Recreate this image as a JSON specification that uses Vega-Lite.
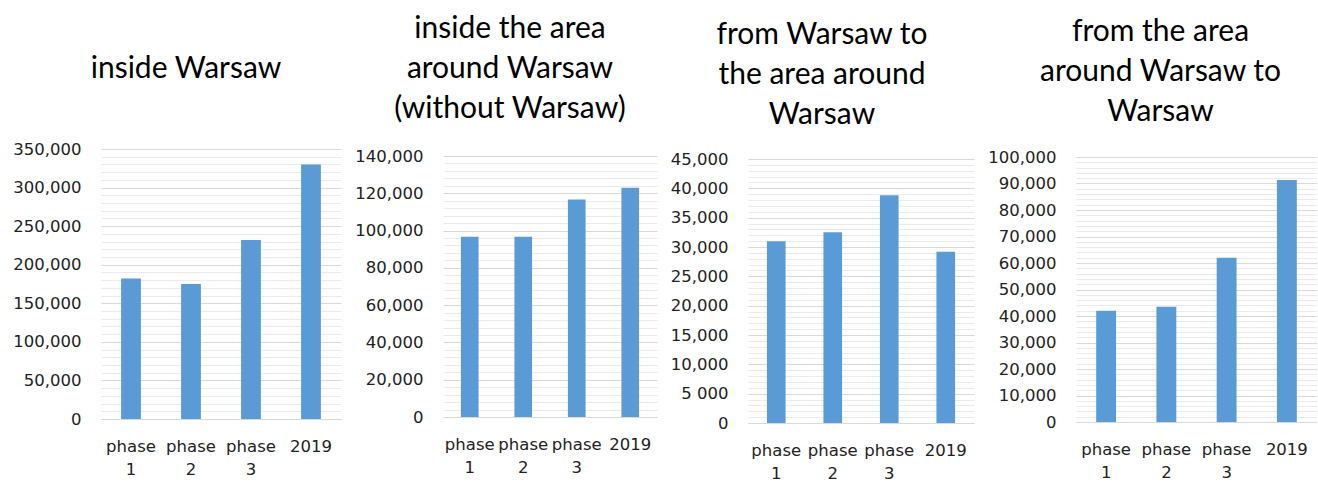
{
  "$schema": "https://vega.github.io/schema/vega-lite/v6.json",
  "padding": {"left": 12, "top": 14, "right": 0, "bottom": 0},
  "background": "white",
  "spacing": 13,
  "data": {"values": [
    {"panel": "p1", "cat": "phase 1", "value": 182000},
    {"panel": "p1", "cat": "phase 2", "value": 175000},
    {"panel": "p1", "cat": "phase 3", "value": 232000},
    {"panel": "p1", "cat": "2019", "value": 330000},
    {"panel": "p2", "cat": "phase 1", "value": 96700},
    {"panel": "p2", "cat": "phase 2", "value": 96700},
    {"panel": "p2", "cat": "phase 3", "value": 116700},
    {"panel": "p2", "cat": "2019", "value": 123000},
    {"panel": "p3", "cat": "phase 1", "value": 31000},
    {"panel": "p3", "cat": "phase 2", "value": 32500},
    {"panel": "p3", "cat": "phase 3", "value": 38800},
    {"panel": "p3", "cat": "2019", "value": 29200},
    {"panel": "p4", "cat": "phase 1", "value": 42000},
    {"panel": "p4", "cat": "phase 2", "value": 43500},
    {"panel": "p4", "cat": "phase 3", "value": 62000},
    {"panel": "p4", "cat": "2019", "value": 91300}
  ]},
  "hconcat": [
    {
      "width": 240, "height": 270,
      "title": {"text": ["", "inside Warsaw", ""], "offset": 17, "dx": -35},
      "transform": [{"filter": "datum.panel === 'p1'"}],
      "mark": {"type": "bar", "color": "#5B9BD5"},
      "encoding": {
        "x": {"field": "cat", "type": "nominal", "sort": ["phase 1", "phase 2", "phase 3", "2019"],
              "scale": {"paddingInner": 0.67, "paddingOuter": 0.335}, "axis": {"title": null}},
        "y": {"field": "value", "type": "quantitative", "scale": {"domain": [0, 350000], "nice": false, "range": [270, 0]},
              "axis": {"title": null,
                       "values": [0,10000,20000,30000,40000,50000,60000,70000,80000,90000,100000,110000,120000,130000,140000,150000,160000,170000,180000,190000,200000,210000,220000,230000,240000,250000,260000,270000,280000,290000,300000,310000,320000,330000,340000,350000],
                       "labelExpr": "datum.value % 50000 === 0 ? datum.label : ''",
                       "gridColor": {"condition": {"test": "datum.value % 50000 === 0", "value": "#d9d9d9"}, "value": "#ebebeb"}}}
      }
    },
    {
      "width": 214, "height": 268,
      "title": {"text": ["inside the area", "around Warsaw", "(without Warsaw)"], "offset": 24, "dx": -40},
      "transform": [{"filter": "datum.panel === 'p2'"}],
      "mark": {"type": "bar", "color": "#5B9BD5"},
      "encoding": {
        "x": {"field": "cat", "type": "nominal", "sort": ["phase 1", "phase 2", "phase 3", "2019"],
              "scale": {"paddingInner": 0.67, "paddingOuter": 0.335}, "axis": {"title": null}},
        "y": {"field": "value", "type": "quantitative", "scale": {"domain": [0, 140000], "nice": false, "range": [268, 7]},
              "axis": {"title": null,
                       "values": [0,4000,8000,12000,16000,20000,24000,28000,32000,36000,40000,44000,48000,52000,56000,60000,64000,68000,72000,76000,80000,84000,88000,92000,96000,100000,104000,108000,112000,116000,120000,124000,128000,132000,136000,140000],
                       "labelExpr": "datum.value % 20000 === 0 ? datum.label : ''",
                       "gridColor": {"condition": {"test": "datum.value % 20000 === 0", "value": "#d9d9d9"}, "value": "#ebebeb"}}}
      }
    },
    {
      "width": 226, "height": 274,
      "title": {"text": ["from Warsaw to", "the area around", "Warsaw"], "offset": 19, "dx": -39},
      "transform": [{"filter": "datum.panel === 'p3'"}],
      "mark": {"type": "bar", "color": "#5B9BD5"},
      "encoding": {
        "x": {"field": "cat", "type": "nominal", "sort": ["phase 1", "phase 2", "phase 3", "2019"],
              "scale": {"paddingInner": 0.67, "paddingOuter": 0.335}, "axis": {"title": null}},
        "y": {"field": "value", "type": "quantitative", "scale": {"domain": [0, 45000], "nice": false, "range": [274, 10]},
              "axis": {"title": null,
                       "values": [0,1000,2000,3000,4000,5000,6000,7000,8000,9000,10000,11000,12000,13000,14000,15000,16000,17000,18000,19000,20000,21000,22000,23000,24000,25000,26000,27000,28000,29000,30000,31000,32000,33000,34000,35000,36000,37000,38000,39000,40000,41000,42000,43000,44000,45000],
                       "labelExpr": "datum.value === 5000 ? '5 000' : (datum.value % 5000 === 0 ? datum.label : '')",
                       "gridColor": {"condition": {"test": "datum.value % 5000 === 0", "value": "#d9d9d9"}, "value": "#ebebeb"}}}
      }
    },
    {
      "width": 241, "height": 273,
      "title": {"text": ["from the area", "around Warsaw to", "Warsaw"], "offset": 22, "dx": -36},
      "transform": [{"filter": "datum.panel === 'p4'"}],
      "mark": {"type": "bar", "color": "#5B9BD5"},
      "encoding": {
        "x": {"field": "cat", "type": "nominal", "sort": ["phase 1", "phase 2", "phase 3", "2019"],
              "scale": {"paddingInner": 0.67, "paddingOuter": 0.335}, "axis": {"title": null}},
        "y": {"field": "value", "type": "quantitative", "scale": {"domain": [0, 100000], "nice": false, "range": [273, 8]},
              "axis": {"title": null,
                       "values": [0,2000,4000,6000,8000,10000,12000,14000,16000,18000,20000,22000,24000,26000,28000,30000,32000,34000,36000,38000,40000,42000,44000,46000,48000,50000,52000,54000,56000,58000,60000,62000,64000,66000,68000,70000,72000,74000,76000,78000,80000,82000,84000,86000,88000,90000,92000,94000,96000,98000,100000],
                       "labelExpr": "datum.value % 10000 === 0 ? datum.label : ''",
                       "gridColor": {"condition": {"test": "datum.value % 10000 === 0", "value": "#d9d9d9"}, "value": "#ebebeb"}}}
      }
    }
  ],
  "config": {
    "view": {"stroke": null},
    "title": {"font": "Lato", "fontSize": 30, "fontWeight": "normal", "color": "#000000", "lineHeight": 40, "baseline": "bottom", "anchor": "middle", "frame": "group"},
    "axis": {"labelFont": "DejaVu Sans", "labelFontSize": 16.5, "labelColor": "#222222", "ticks": false, "tickSize": 0, "domain": false, "labelOverlap": false},
    "axisY": {"labelPadding": 20, "format": ",d", "grid": true, "gridWidth": 1},
    "axisX": {"labelAngle": 0, "labelPadding": 19, "labelLineHeight": 23, "labelExpr": "split(datum.label, ' ')", "grid": false, "domain": true, "domainColor": "#d9d9d9"}
  }
}
